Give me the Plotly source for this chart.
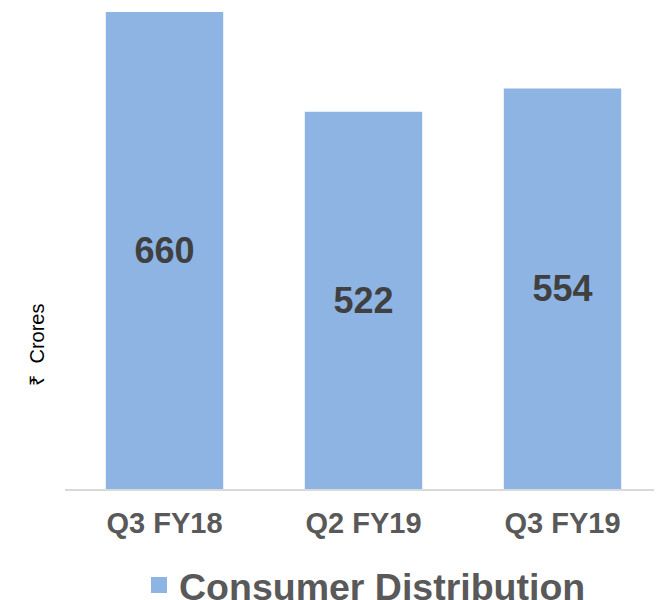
import plotly.graph_objects as go

categories = ["Q3 FY18", "Q2 FY19", "Q3 FY19"]
values = [660, 522, 554]
series_name = "Consumer Distribution"
bar_color = "#8EB4E3"

fig = go.Figure()
fig.add_trace(go.Bar(
    x=categories, y=values, name=series_name,
    marker=dict(color=bar_color, line=dict(width=0)),
    text=[str(v) for v in values],
    textposition="inside", insidetextanchor="middle",
    textfont=dict(family="Liberation Sans, Arial, sans-serif", size=36, color="#404040", weight="bold"),
    textangle=0,
    showlegend=False,
))
# legend entry with larger square symbol
fig.add_trace(go.Scatter(
    x=[None], y=[None], mode="markers", name=series_name,
    marker=dict(symbol="square", size=20, color=bar_color),
    showlegend=True,
))

fig.update_layout(
    width=662, height=600,
    margin=dict(l=57, r=8, t=0, b=119, autoexpand=False),
    paper_bgcolor="white", plot_bgcolor="white",
    bargap=0.41,
    font=dict(family="Liberation Sans, Arial, sans-serif"),
    xaxis=dict(
        showline=True, linecolor="#d9d9d9", linewidth=2,
        showgrid=False, zeroline=False,
        tickfont=dict(size=29, color="#595959", weight="bold"),
        ticks="outside", ticklen=7, tickcolor="rgba(0,0,0,0)",
        automargin=False,
    ),
    yaxis=dict(
        range=[0, 665.5], visible=False, showgrid=False, zeroline=False,
        automargin=False,
    ),
    legend=dict(
        orientation="h", x=0.5025, xanchor="center", y=-0.2, yanchor="middle",
        font=dict(size=37.5, color="#595959", weight="bold"),
    ),
    annotations=[dict(
        text="₹  Crores", textangle=-90, xref="paper", yref="paper",
        x=-0.047, y=0.30, xanchor="center", yanchor="middle", showarrow=False,
        font=dict(size=20, color="#000000"),
    )],
)

fig.write_html("out.html")
